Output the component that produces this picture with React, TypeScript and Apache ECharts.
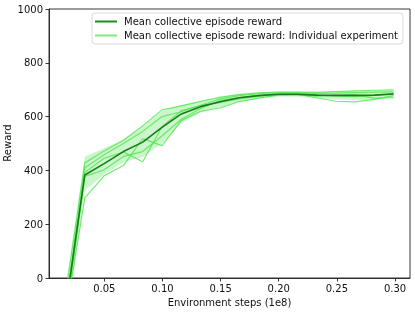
import React, { useEffect, useRef } from "react";
import * as echarts from "echarts";

const xs = [0.0166, 0.0332, 0.0498, 0.0664, 0.083, 0.0996, 0.1162, 0.1328, 0.1494, 0.166, 0.1826, 0.1992, 0.2158, 0.2324, 0.249, 0.2656, 0.2822, 0.2988];
const meanReward = [-116, 383, 425, 470, 505, 560, 610, 637, 655, 670, 678, 683, 683, 680, 679, 679, 680, 684];
const bandHigh = [-40, 452, 482, 515, 560, 620, 642, 660, 675, 685, 690, 692, 692, 691, 692, 694, 696, 697];
const bandLow = [-190, 325, 385, 430, 450, 500, 575, 615, 635, 655, 666, 674, 674, 668, 664, 662, 664, 671];
const run1 = [-60, 428, 472, 512, 565, 625, 640, 656, 672, 682, 688, 691, 691, 690, 693, 696, 698, 699];
const run2 = [-110, 410, 458, 500, 545, 600, 618, 642, 666, 678, 685, 688, 688, 686, 687, 689, 691, 692];
const run3 = [-130, 392, 445, 468, 432, 562, 622, 641, 652, 666, 676, 681, 683, 670, 657, 655, 664, 678];
const run4 = [-150, 378, 402, 452, 470, 528, 590, 630, 660, 671, 679, 684, 686, 681, 676, 674, 679, 686];
const run5 = [-145, 298, 380, 418, 518, 492, 585, 620, 632, 656, 669, 680, 681, 676, 679, 681, 669, 670];
const runs = [run1, run2, run3, run4, run5];
const xTickValues = [0.05, 0.1, 0.15, 0.2, 0.25, 0.3];

const MEAN_NAME = "Mean collective episode reward";
const RUN_NAME = "Mean collective episode reward: Individual experiment";
const Y_TITLE = "Reward";
const FONT = "DejaVu Sans";
const FS = 10;

export default function App() {
  const ref = useRef<HTMLDivElement>(null);
  useEffect(() => {
    if (!ref.current) return;
    const chart = echarts.init(ref.current, undefined, { renderer: "svg" });
    const runSeries = runs.map((r) => ({
      type: "line",
      name: RUN_NAME,
      data: xs.map((x, i) => [x, r[i]]),
      showSymbol: false,
      symbol: "none",
      clip: true,
      z: 3,
      lineStyle: { color: "#4fe64f", width: 1.2, opacity: 0.8 },
      itemStyle: { color: "#7aee7a" },
    }));
    chart.setOption({
      animation: false,
      textStyle: { fontFamily: FONT },
      grid: {
        left: 49,
        right: 5,
        top: 9,
        bottom: 34,
        containLabel: false,
        outerBoundsMode: "none",
        show: true,
        borderColor: "#222",
        borderWidth: 0.9,
        backgroundColor: "transparent",
      },
      graphic: [
        {
          type: "text",
          x: 7,
          y: 143,
          rotation: Math.PI / 2,
          style: { text: Y_TITLE, fontFamily: FONT, fontSize: FS, fill: "#111", align: "center", verticalAlign: "middle" },
        },
      ],
      legend: {
        orient: "vertical",
        left: 92,
        top: 13,
        padding: [3, 5, 3, 3],
        itemGap: 3,
        itemWidth: 22,
        itemHeight: 2,
        icon: "rect",
        borderColor: "#d0d0d0",
        borderWidth: 0.8,
        borderRadius: 3,
        backgroundColor: "rgba(255,255,255,0.8)",
        textStyle: { fontFamily: FONT, fontSize: FS, color: "#111", lineHeight: 11, padding: [0, 0, 0, 2] },
        data: [
          { name: MEAN_NAME, itemStyle: { color: "#1f8a1f" } },
          { name: RUN_NAME, itemStyle: { color: "#7aee7a" } },
        ],
      },
      xAxis: {
        type: "value",
        min: 0.0024,
        max: 0.3129,
        name: "Environment steps (1e8)",
        nameLocation: "middle",
        nameGap: 19,
        nameTextStyle: { fontFamily: FONT, fontSize: FS, color: "#111" },
        axisLine: { show: true, lineStyle: { color: "#222", width: 0.9 } },
        axisTick: { show: true, length: 3.5, lineStyle: { color: "#222", width: 0.9 }, customValues: xTickValues },
        axisLabel: {
          fontFamily: FONT,
          fontSize: FS,
          color: "#111",
          margin: 5,
          customValues: xTickValues,
          formatter: (v: number) => v.toFixed(2),
        },
        splitLine: { show: false },
      },
      yAxis: {
        type: "value",
        min: 0,
        max: 1000,
        interval: 200,
        axisLine: { show: true, lineStyle: { color: "#222", width: 0.9 } },
        axisTick: { show: true, length: 3.5, lineStyle: { color: "#222", width: 0.9 } },
        axisLabel: { fontFamily: FONT, fontSize: FS, color: "#111", margin: 6, formatter: (v: number) => String(v) },
        splitLine: { show: false },
      },
      series: [
        {
          type: "custom",
          name: "band",
          clip: true,
          silent: true,
          z: 1,
          data: [[xs[0], meanReward[0]]],
          renderItem: (_params: any, api: any) => {
            const pts: number[][] = [];
            for (let i = 0; i < xs.length; i++) pts.push(api.coord([xs[i], bandHigh[i]]));
            for (let i = xs.length - 1; i >= 0; i--) pts.push(api.coord([xs[i], bandLow[i]]));
            return { type: "polygon", shape: { points: pts }, style: { fill: "rgba(140,236,140,0.45)", stroke: "none" } };
          },
        },
        ...runSeries,
        {
          type: "line",
          name: MEAN_NAME,
          data: xs.map((x, i) => [x, meanReward[i]]),
          showSymbol: false,
          symbol: "none",
          clip: true,
          z: 4,
          lineStyle: { color: "#1a7a1a", width: 1.6 },
          itemStyle: { color: "#1f8a1f" },
        },
      ],
    });
    return () => chart.dispose();
  }, []);
  return <div ref={ref} style={{ position: "fixed", left: 0, top: 0, width: 415, height: 312 }} />;
}
